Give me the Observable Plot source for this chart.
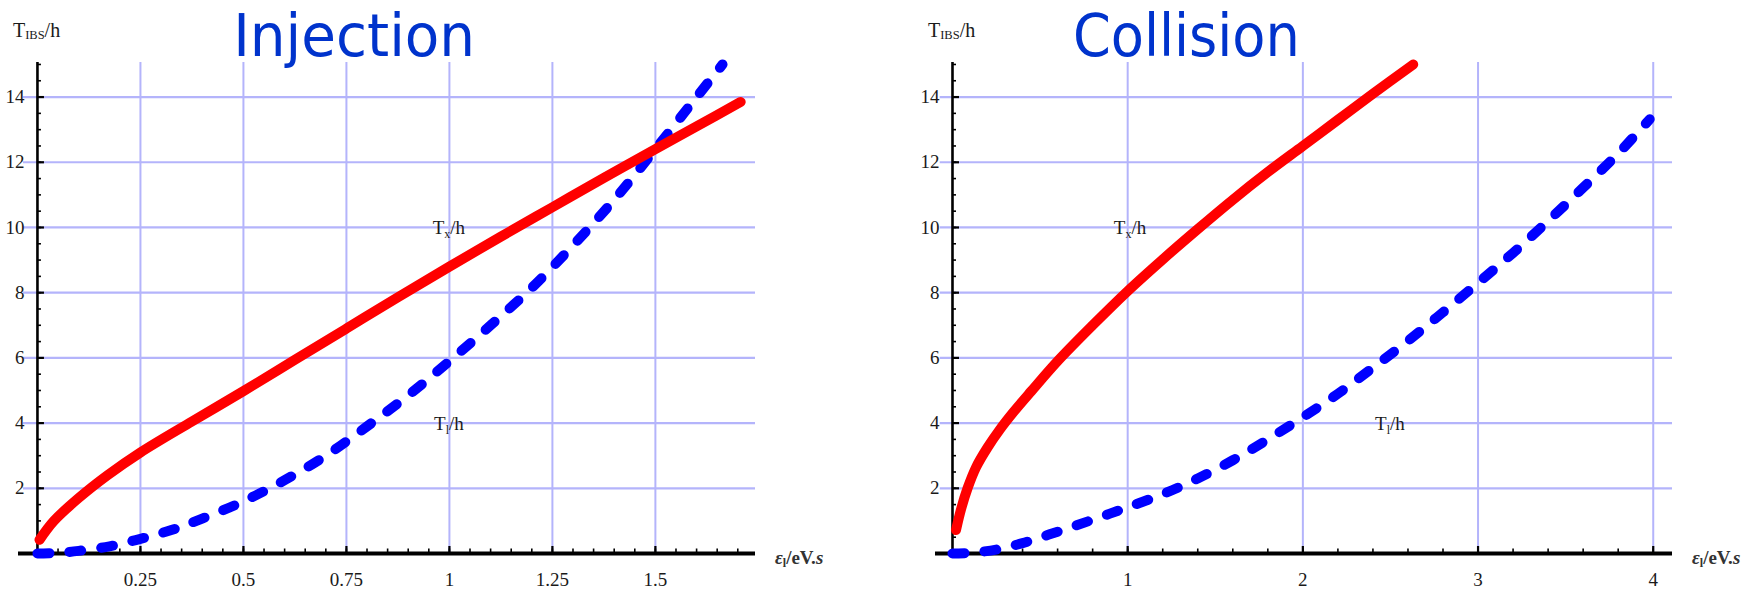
<!DOCTYPE html>
<html><head><meta charset="utf-8">
<script src="https://cdn.jsdelivr.net/npm/d3@7"></script>
<script src="https://cdn.jsdelivr.net/npm/@observablehq/plot@0.6"></script>
<style>
html,body{margin:0;padding:0;background:#fff;}
#wrap{display:flex;width:1764px;height:592px;overflow:hidden;}
#wrap svg{display:block;overflow:visible;}
</style></head><body><div id="wrap"></div>
<script>
// ---- Injection panel data ----
const injTxX = [0.005, 0.04, 0.1, 0.17, 0.25, 0.375, 0.5, 0.625, 0.75, 0.875, 1.0, 1.125, 1.25, 1.375, 1.5, 1.6, 1.707];
const injTxY = [0.42, 1.0, 1.7, 2.4, 3.1, 4.05, 4.98, 5.94, 6.9, 7.86, 8.8, 9.72, 10.62, 11.52, 12.4, 13.1, 13.85];
const injTlX = [0, 0.05, 0.1, 0.175, 0.25, 0.325, 0.4, 0.5, 0.6, 0.7, 0.8, 0.9, 1.0, 1.1, 1.2, 1.3, 1.4, 1.5, 1.6, 1.663];
const injTlY = [0.0, 0.02, 0.08, 0.22, 0.45, 0.72, 1.07, 1.6, 2.25, 3.0, 3.9, 4.85, 5.9, 7.0, 8.15, 9.45, 10.85, 12.4, 14.0, 15.0];
const injXTicks = [0.25, 0.5, 0.75, 1, 1.25, 1.5];
const injXTickLabels = ["0.25", "0.5", "0.75", "1", "1.25", "1.5"];

// ---- Collision panel data ----
const colTxX = [0.02, 0.05, 0.086, 0.135, 0.2, 0.27, 0.35, 0.45, 0.6, 0.8, 1.0, 1.2, 1.4, 1.6, 1.8, 2.0, 2.2, 2.4, 2.63];
const colTxY = [0.72, 1.38, 2.0, 2.65, 3.25, 3.8, 4.35, 4.98, 5.9, 7.0, 8.05, 9.02, 9.95, 10.85, 11.7, 12.5, 13.3, 14.1, 15.0];
const colTlX = [0, 0.1, 0.25, 0.4, 0.55, 0.7, 0.85, 1.0, 1.2, 1.4, 1.6, 1.8, 2.0, 2.2, 2.4, 2.6, 2.8, 3.0, 3.2, 3.4, 3.6, 3.8, 3.98];
const colTlY = [0.0, 0.02, 0.12, 0.32, 0.58, 0.85, 1.13, 1.42, 1.82, 2.3, 2.86, 3.5, 4.18, 4.9, 5.7, 6.52, 7.4, 8.3, 9.22, 10.2, 11.22, 12.27, 13.32];
const colXTicks = [1, 2, 3, 4];
const colXTickLabels = ["1", "2", "3", "4"];

// ---- shared ----
const yTicks = [2, 4, 6, 8, 10, 12, 14];
const yTickLabels = ["2", "4", "6", "8", "10", "12", "14"];
const titles = ["Injection", "Collision"];

const W = 882, H = 592, MT = 62, MB = 39, YMAX = 15.06;
const GRID = "#b4b4fb";
const SERIF = "'Liberation Serif', 'DejaVu Serif', serif";

function rows(xs, ys) { return xs.map((x, i) => ({x, y: ys[i]})); }

function panel(o) {
  const ppuY = (H - MT - MB) / YMAX;
  const ppuX = (W - o.ml - o.mr) / (o.xDomain[1] - o.xDomain[0]);
  const xMinor = d3.range(o.minorStep, o.xDomain[1], o.minorStep).map(v => +v.toFixed(4));
  const yMinor = d3.range(0.5, 15.01, 0.5);
  const plot = Plot.plot({
    width: W, height: H,
    marginLeft: o.ml, marginRight: o.mr, marginTop: MT, marginBottom: MB,
    x: {domain: o.xDomain},
    y: {domain: [0, YMAX]},
    axis: null,
    style: {background: "transparent", overflow: "visible"},
    marks: [
      Plot.ruleY(yTicks, {y: d => d, x1: o.gridStart, x2: o.xDomain[1], stroke: GRID, strokeWidth: 2.2}),
      Plot.ruleX(o.xTicks, {x: d => d, y1: 0, y2: YMAX, stroke: GRID, strokeWidth: 2}),
      Plot.ruleY([0], {stroke: "#000", strokeWidth: 4}),
      Plot.ruleX([0], {y1: 0, y2: YMAX, stroke: "#000", strokeWidth: 2.6}),
      Plot.ruleX(xMinor, {x: d => d, y1: 0, y2: 4.5 / ppuY, stroke: "#000", strokeWidth: 1.6}),
      Plot.ruleX(o.xTicks, {x: d => d, y1: 0, y2: 7 / ppuY, stroke: "#000", strokeWidth: 2.2}),
      Plot.ruleY(yMinor, {y: d => d, x1: 0, x2: 4 / ppuX, stroke: "#000", strokeWidth: 1.6}),
      Plot.ruleY(yTicks, {y: d => d, x1: 0, x2: 7 / ppuX, stroke: "#000", strokeWidth: 2.2}),
      Plot.text(o.xTicks, {x: d => d, y: 0, text: (d, i) => o.xTickLabels[i], dy: 26, fontSize: 19, fontFamily: SERIF, fill: "#1a1a1a"}),
      Plot.text(yTicks, {x: 0, y: d => d, text: (d, i) => yTickLabels[i], dx: -13, textAnchor: "end", fontSize: 19, fontFamily: SERIF, fill: "#1a1a1a"}),
      Plot.line(o.tl, {x: "x", y: "y", stroke: "#0000ff", strokeWidth: 10, strokeDasharray: "12,20", strokeLinecap: "round", curve: "catmull-rom"}),
      Plot.line(o.tx, {x: "x", y: "y", stroke: "#ff0000", strokeWidth: 10, strokeLinecap: "round", curve: "catmull-rom"})
    ]
  });
  const sx = plot.scale("x"), sy = plot.scale("y");
  const svg = d3.select(plot);
  // title
  svg.append("text")
    .attr("x", sx.apply(o.titleX)).attr("y", 56)
    .attr("text-anchor", "middle")
    .attr("font-family", "'DejaVu Sans', Verdana, sans-serif")
    .attr("font-size", 59).attr("fill", "#0033cc")
    .attr("textLength", o.titleLen).attr("lengthAdjust", "spacingAndGlyphs")
    .text(o.title);
  // y axis label T_IBS/h
  const yl = svg.append("text")
    .attr("x", sx.apply(0) - 24).attr("y", 37)
    .attr("text-anchor", "start")
    .attr("font-family", SERIF).attr("font-size", 20).attr("fill", "#1a1a1a");
  yl.append("tspan").text("T");
  yl.append("tspan").attr("font-size", 12.5).attr("dy", 2).text("IBS");
  yl.append("tspan").attr("dy", -2).text("/h");
  // x axis label ε_l/eV.s
  const xl = svg.append("text")
    .attr("x", sx.apply(o.xDomain[1]) + 20).attr("y", sy.apply(0) + 11)
    .attr("text-anchor", "start")
    .attr("font-family", SERIF).attr("font-size", 19).attr("font-weight", "bold").attr("fill", "#333");
  xl.append("tspan").attr("font-style", "italic").text("ε");
  xl.append("tspan").attr("font-size", 12).attr("dy", 3).text("l");
  xl.append("tspan").attr("dy", -3).text("/eV.");
  xl.append("tspan").attr("font-style", "italic").text("s");
  // curve labels
  function curveLabel(x, y, sub) {
    const t = svg.append("text")
      .attr("x", sx.apply(x)).attr("y", sy.apply(y) + 7)
      .attr("text-anchor", "middle")
      .attr("font-family", SERIF).attr("font-size", 19).attr("fill", "#1a1a1a");
    t.append("tspan").text("T");
    t.append("tspan").attr("font-size", 12).attr("dy", 4).text(sub);
    t.append("tspan").attr("dy", -4).text("/h");
  }
  curveLabel(o.txLabel[0], o.txLabel[1], "x");
  curveLabel(o.tlLabel[0], o.tlLabel[1], "l");
  return plot;
}

const wrap = document.getElementById("wrap");
wrap.appendChild(panel({
  ml: 18, mr: 127, xDomain: [-0.046, 1.743], gridStart: -0.034, minorStep: 0.05,
  xTicks: injXTicks, xTickLabels: injXTickLabels,
  tx: rows(injTxX, injTxY), tl: rows(injTlX, injTlY),
  title: titles[0], titleX: 0.77, titleLen: 242,
  txLabel: [1.0, 10], tlLabel: [1.0, 4]
}));
wrap.appendChild(panel({
  ml: 53, mr: 92, xDomain: [-0.097, 4.11], gridStart: -0.07, minorStep: 0.2,
  xTicks: colXTicks, xTickLabels: colXTickLabels,
  tx: rows(colTxX, colTxY), tl: rows(colTlX, colTlY),
  title: titles[1], titleX: 1.338, titleLen: 227,
  txLabel: [1.016, 10], tlLabel: [2.5, 4]
}));
</script></body></html>
